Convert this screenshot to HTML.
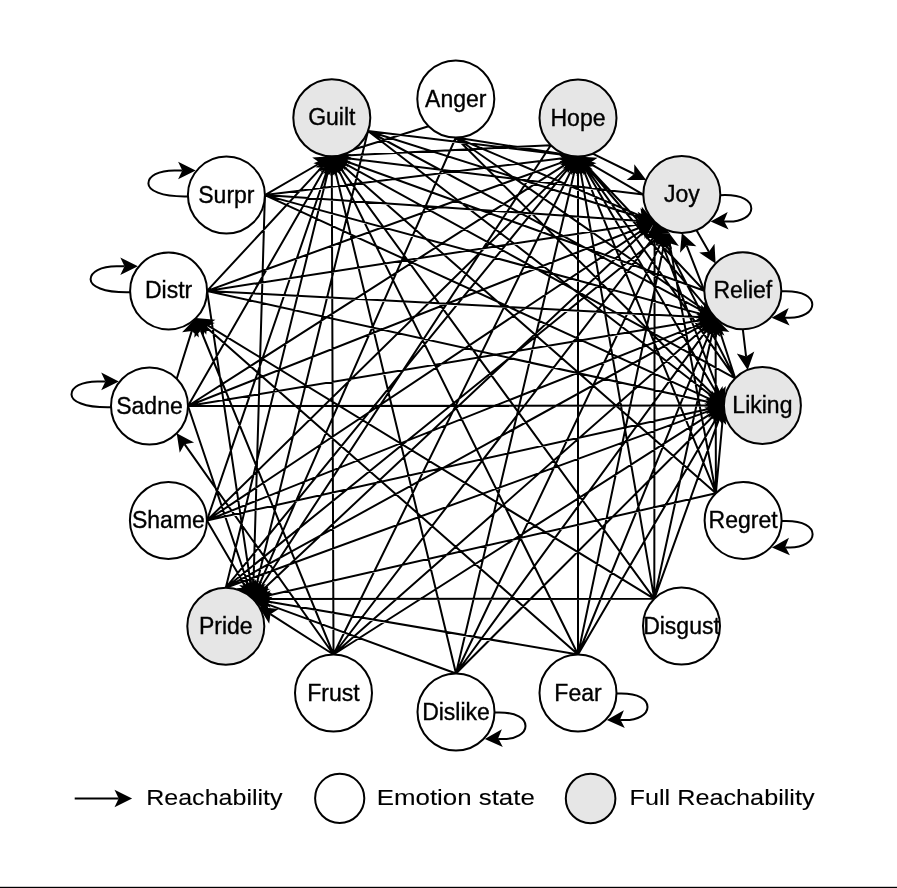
<!DOCTYPE html>
<html><head><meta charset="utf-8"><style>
html,body{margin:0;padding:0;background:#fff;width:897px;height:888px;overflow:hidden}
svg{display:block;will-change:transform}
text{font-family:"Liberation Sans",sans-serif;font-size:23px;fill:#000;stroke:#000;stroke-width:0.35px}
text.lg{font-size:22.3px;stroke-width:0.1px}
</style></head><body>
<svg width="897" height="888" viewBox="0 0 897 888">
<rect width="897" height="888" fill="#fff"/>
<path d="M368.0,131.0L564.7,154.9M368.0,131.0L641.8,217.8M368.0,131.0L703.8,311.6M368.0,131.0L713.3,397.3M368.0,131.0L256.2,586.0M428.6,126.2L344.6,152.3M455.8,137.5L564.8,154.4M455.8,137.5L642.2,216.6M455.8,137.5L704.6,310.3M455.8,137.5L714.4,396.0M455.8,137.5L258.4,586.7M550.8,145.2L345.2,155.6M592.7,153.6L634.2,174.0M578.0,156.5L706.9,307.7M578.0,156.5L717.1,393.9M550.8,145.2L260.4,587.8M643.3,194.6L345.1,157.9M643.3,194.6L589.6,163.3M696.5,230.2L708.9,251.8M643.3,194.6L719.1,393.0M654.6,221.8L262.8,589.8M704.3,290.7L344.4,160.8M704.3,290.7L587.2,166.3M704.3,290.7L686.7,245.6M742.8,329.2L746.1,356.6M735.2,378.3L343.5,162.8M735.2,378.3L585.7,167.4M735.2,378.3L660.7,233.7M735.2,378.3L719.7,330.7M715.9,493.2L341.9,165.1M715.9,493.2L583.1,168.9M715.9,493.2L669.5,243.3M715.9,493.2L715.6,331.3M715.9,493.2L722.7,418.8M715.9,493.2L266.1,596.0M654.3,598.8L339.7,167.1M654.3,598.8L580.3,169.7M654.3,598.8L654.6,235.2M654.3,598.8L712.7,331.0M654.3,598.8L719.4,418.1M654.3,598.8L266.4,599.0M578.0,654.5L337.7,168.3M578.0,654.5L578.0,169.9M578.0,654.5L664.3,243.3M578.0,654.5L710.5,330.3M578.0,654.5L717.1,417.1M578.0,654.5L266.2,601.2M456.0,673.5L334.9,169.3M456.0,673.5L574.9,169.5M456.0,673.5L661.3,242.3M456.0,673.5L707.7,328.7M456.0,673.5L714.4,415.0M456.0,673.5L265.6,603.6M333.5,654.5L331.8,169.7M333.5,654.5L572.1,168.5M333.5,654.5L653.2,237.9M333.5,654.5L705.5,326.8M333.5,654.5L712.6,412.7M333.5,654.5L270.4,614.2M225.8,587.7L328.6,169.3M225.8,587.7L569.5,166.9M225.8,587.7L656.7,238.6M225.8,587.7L703.8,324.4M225.8,587.7L711.3,410.1M206.9,520.5L327.5,169.0M206.9,520.5L568.4,165.9M206.9,520.5L643.4,229.3M206.9,520.5L703.1,322.9M206.9,520.5L710.8,408.4M206.9,520.5L246.2,587.4M188.0,406.0L325.1,167.9M188.0,406.0L566.7,163.7M188.0,406.0L642.1,226.7M188.0,406.0L702.4,320.1M188.0,406.0L710.5,405.5M188.0,406.0L248.7,586.3M207.1,290.9L322.7,166.1M207.1,290.9L565.4,161.1M207.1,290.9L641.3,223.9M207.1,290.9L702.2,317.2M207.1,290.9L710.8,402.6M207.1,290.9L251.0,585.7M264.9,195.1L320.2,163.0M264.9,195.1L564.7,158.1M264.9,195.1L641.2,220.9M264.9,195.1L702.6,314.4M264.9,195.1L711.7,399.9M264.9,195.1L253.4,585.6M176.7,378.8L191.8,330.9M333.5,654.5L200.9,330.5M333.5,654.5L184.5,444.2M654.3,598.8L207.3,325.1M578.0,654.5L205.9,327.0M187.9,196.4C160.4,197.0 148.4,190.1 148.4,183.5C148.4,176.1 158.4,170.5 174.4,170.5L182.3,170.5M130.1,292.2C102.6,292.8 90.6,285.9 90.6,279.3C90.6,271.9 100.6,266.3 116.6,266.3L124.5,266.3M111.0,407.3C83.5,407.9 71.5,401.0 71.5,394.4C71.5,387.0 81.5,381.4 97.5,381.4L105.4,381.4M720.3,195.2C743.8,194.0 751.3,202.0 751.3,208.5C751.3,216.0 741.8,221.6 728.8,221.6L724.0,221.6M781.3,291.3C804.8,290.1 812.3,298.1 812.3,304.6C812.3,312.1 802.8,317.7 789.8,317.7L785.0,317.7M781.6,521.0C805.1,519.8 812.6,527.8 812.6,534.3C812.6,541.8 803.1,547.4 790.1,547.4L785.3,547.4M616.5,693.6C640.0,692.4 647.5,700.4 647.5,706.9C647.5,714.4 638.0,720.0 625.0,720.0L620.2,720.0M494.5,712.6C518.0,711.4 525.5,719.4 525.5,725.9C525.5,733.4 516.0,739.0 503.0,739.0L498.2,739.0" fill="none" stroke="#000" stroke-width="2"/>
<path d="M578.0,156.5L559.5,163.1L564.7,154.9L561.6,145.6ZM654.6,221.8L635.1,224.9L641.8,217.8L640.5,208.1ZM715.6,317.9L695.9,317.3L703.8,311.6L704.2,301.8ZM723.9,405.5L704.6,401.7L713.3,397.3L715.3,387.8ZM253.0,599.0L248.7,579.8L256.2,586.0L265.8,584.0ZM331.8,156.3L346.0,142.7L344.6,152.3L351.2,159.5ZM578.0,156.5L559.3,162.5L564.8,154.4L562.0,145.1ZM654.6,221.8L634.9,223.1L642.2,216.6L641.8,206.8ZM715.6,317.9L696.1,315.1L704.6,310.3L706.1,300.7ZM723.9,405.5L705.2,399.3L714.4,396.0L717.7,386.8ZM253.0,599.0L252.0,579.3L258.4,586.7L268.2,586.4ZM331.8,156.3L348.9,146.6L345.2,155.6L349.8,164.2ZM646.2,179.9L626.6,180.0L634.2,174.0L634.3,164.2ZM715.6,317.9L697.5,310.2L706.9,307.7L710.9,298.8ZM723.9,405.5L707.4,394.8L717.1,393.9L722.6,385.9ZM253.0,599.0L255.3,579.4L260.4,587.8L270.0,589.1ZM331.8,156.3L350.3,149.7L345.1,157.9L348.2,167.2ZM578.0,156.5L597.6,157.8L589.6,163.3L588.8,173.0ZM715.6,263.5L699.2,252.6L708.9,251.8L714.5,243.8ZM723.9,405.5L709.4,392.2L719.1,393.0L725.8,385.9ZM253.0,599.0L259.8,580.5L262.8,589.8L271.9,593.3ZM331.8,156.3L351.3,154.0L344.4,160.8L345.4,170.6ZM578.0,156.5L596.5,163.3L587.2,166.3L583.7,175.3ZM681.8,233.1L696.4,246.3L686.7,245.6L680.0,252.7ZM747.7,369.9L736.8,353.5L746.1,356.6L754.3,351.4ZM331.8,156.3L351.5,157.1L343.5,162.8L343.0,172.5ZM578.0,156.5L595.4,165.8L585.7,167.4L581.0,175.9ZM654.6,221.8L670.5,233.4L660.7,233.7L654.8,241.5ZM715.6,317.9L729.4,331.9L719.7,330.7L712.6,337.4ZM331.8,156.3L350.8,161.3L341.9,165.1L339.2,174.5ZM578.0,156.5L592.8,169.5L583.1,168.9L576.5,176.1ZM667.1,230.2L678.9,245.9L669.5,243.3L661.6,249.1ZM715.6,317.9L724.4,335.5L715.6,331.3L706.8,335.5ZM723.9,405.5L731.1,423.8L722.7,418.8L713.5,422.2ZM253.0,599.0L268.2,586.5L266.1,596.0L272.1,603.6ZM331.8,156.3L349.3,165.3L339.7,167.1L335.1,175.7ZM578.0,156.5L589.7,172.3L580.3,169.7L572.3,175.3ZM654.6,221.8L663.4,239.4L654.6,235.2L645.8,239.4ZM715.6,317.9L720.4,337.0L712.7,331.0L703.2,333.2ZM723.9,405.5L726.2,425.0L719.4,418.1L709.7,419.1ZM253.0,599.0L270.6,590.2L266.4,599.0L270.6,607.8ZM331.8,156.3L347.5,168.2L337.7,168.3L331.7,176.0ZM578.0,156.5L586.8,174.1L578.0,169.9L569.2,174.1ZM667.1,230.2L672.1,249.2L664.3,243.3L654.8,245.6ZM715.6,317.9L717.1,337.5L710.5,330.3L700.8,330.9ZM723.9,405.5L722.6,425.1L717.1,417.1L707.4,416.2ZM253.0,599.0L271.9,593.3L266.2,601.2L268.9,610.6ZM331.8,156.3L344.5,171.4L334.9,169.3L327.4,175.5ZM578.0,156.5L582.5,175.7L574.9,169.5L565.4,171.6ZM667.1,230.2L667.4,249.8L661.3,242.3L651.6,242.3ZM715.6,317.9L712.3,337.3L707.7,328.7L698.1,327.0ZM723.9,405.5L717.7,424.2L714.4,415.0L705.2,411.7ZM253.0,599.0L272.6,596.8L265.6,603.6L266.5,613.3ZM331.8,156.3L340.7,173.9L331.8,169.7L323.1,173.9ZM578.0,156.5L578.1,176.2L572.1,168.5L562.3,168.4ZM661.4,227.2L657.7,246.6L653.2,237.9L643.7,235.9ZM715.6,317.9L708.2,336.2L705.5,326.8L696.6,323.0ZM723.9,405.5L713.8,422.4L712.6,412.7L704.3,407.5ZM259.1,607.0L278.7,609.0L270.4,614.2L269.2,623.8ZM331.8,156.3L336.1,175.5L328.6,169.3L319.1,171.3ZM578.0,156.5L573.7,175.7L569.5,166.9L560.1,164.6ZM667.1,230.2L658.9,248.1L656.7,238.6L647.9,234.4ZM715.6,317.9L704.4,334.1L703.8,324.4L695.9,318.7ZM723.9,405.5L710.4,419.8L711.3,410.1L704.3,403.3ZM331.8,156.3L334.4,175.8L327.5,169.0L317.8,170.1ZM578.0,156.5L571.6,175.1L568.4,165.9L559.3,162.5ZM654.6,221.8L644.8,238.9L643.4,229.3L635.1,224.3ZM715.6,317.9L702.5,332.6L703.1,322.9L696.0,316.3ZM723.9,405.5L708.6,417.9L710.8,408.4L704.8,400.7ZM253.0,599.0L236.5,588.3L246.2,587.4L251.7,579.3ZM331.8,156.3L330.6,175.9L325.1,167.9L315.4,167.2ZM578.0,156.5L567.9,173.4L566.7,163.7L558.4,158.6ZM654.6,221.8L641.4,236.5L642.1,226.7L635.0,220.1ZM715.6,317.9L699.7,329.5L702.4,320.1L696.8,312.1ZM723.9,405.5L706.3,414.3L710.5,405.5L706.3,396.7ZM253.0,599.0L239.1,585.1L248.7,586.3L255.7,579.5ZM331.8,156.3L326.3,175.2L322.7,166.1L313.4,163.2ZM578.0,156.5L564.5,170.8L565.4,161.1L558.5,154.2ZM654.6,221.8L638.5,233.2L641.3,223.9L635.8,215.8ZM715.6,317.9L697.5,325.8L702.2,317.2L698.5,308.2ZM723.9,405.5L704.8,410.3L710.8,402.6L708.6,393.1ZM253.0,599.0L241.7,582.9L251.0,585.7L259.1,580.3ZM331.8,156.3L321.0,172.7L320.2,163.0L312.2,157.5ZM578.0,156.5L561.6,167.4L564.7,158.1L559.5,149.9ZM654.6,221.8L636.4,229.4L641.2,220.9L637.6,211.8ZM715.6,317.9L696.3,321.8L702.6,314.4L700.9,304.8ZM723.9,405.5L704.2,406.2L711.7,399.9L711.6,390.2ZM253.0,599.0L244.7,581.1L253.4,585.6L262.3,581.6ZM195.8,318.1L198.9,337.6L191.8,330.9L182.1,332.3ZM195.8,318.1L210.6,331.1L200.9,330.5L194.3,337.7ZM176.7,433.2L194.1,442.5L184.5,444.2L179.7,452.7ZM195.8,318.1L215.4,319.8L207.3,325.1L206.2,334.8ZM195.8,318.1L214.8,323.1L205.9,327.0L203.2,336.4ZM195.7,170.5L178.1,179.3L182.3,170.5L178.1,161.7ZM137.9,266.3L120.3,275.1L124.5,266.3L120.3,257.5ZM118.8,381.4L101.2,390.2L105.4,381.4L101.2,372.6ZM710.6,221.6L727.7,211.9L724.0,220.9L728.6,229.5ZM771.6,317.7L788.7,308.0L785.0,317.0L789.6,325.6ZM771.9,547.4L789.0,537.7L785.3,546.7L789.9,555.3ZM606.8,720.0L623.9,710.3L620.2,719.3L624.8,727.9ZM484.8,739.0L501.9,729.3L498.2,738.3L502.8,746.9Z" fill="#000" stroke="none"/>
<circle cx="331.8" cy="117.8" r="38.5" fill="#e6e6e6" stroke="#000" stroke-width="2"/>
<circle cx="455.8" cy="99.0" r="38.5" fill="#fff" stroke="#000" stroke-width="2"/>
<circle cx="578.0" cy="118.0" r="38.5" fill="#e6e6e6" stroke="#000" stroke-width="2"/>
<circle cx="681.8" cy="194.6" r="38.5" fill="#e6e6e6" stroke="#000" stroke-width="2"/>
<circle cx="742.8" cy="290.7" r="38.5" fill="#e6e6e6" stroke="#000" stroke-width="2"/>
<circle cx="762.4" cy="405.5" r="38.5" fill="#e6e6e6" stroke="#000" stroke-width="2"/>
<circle cx="743.1" cy="520.4" r="38.5" fill="#fff" stroke="#000" stroke-width="2"/>
<circle cx="681.5" cy="626.0" r="38.5" fill="#fff" stroke="#000" stroke-width="2"/>
<circle cx="578.0" cy="693.0" r="38.5" fill="#fff" stroke="#000" stroke-width="2"/>
<circle cx="456.0" cy="712.0" r="38.5" fill="#fff" stroke="#000" stroke-width="2"/>
<circle cx="333.5" cy="693.0" r="38.5" fill="#fff" stroke="#000" stroke-width="2"/>
<circle cx="225.8" cy="626.2" r="38.5" fill="#e6e6e6" stroke="#000" stroke-width="2"/>
<circle cx="168.4" cy="520.5" r="38.5" fill="#fff" stroke="#000" stroke-width="2"/>
<circle cx="149.5" cy="406.0" r="38.5" fill="#fff" stroke="#000" stroke-width="2"/>
<circle cx="168.6" cy="290.9" r="38.5" fill="#fff" stroke="#000" stroke-width="2"/>
<circle cx="226.4" cy="195.1" r="38.5" fill="#fff" stroke="#000" stroke-width="2"/>
<text x="331.8" y="125.3" text-anchor="middle">Guilt</text>
<text x="455.8" y="106.5" text-anchor="middle">Anger</text>
<text x="578.0" y="125.5" text-anchor="middle">Hope</text>
<text x="681.8" y="202.1" text-anchor="middle">Joy</text>
<text x="742.8" y="298.2" text-anchor="middle">Relief</text>
<text x="762.4" y="413.0" text-anchor="middle">Liking</text>
<text x="743.1" y="527.9" text-anchor="middle">Regret</text>
<text x="681.5" y="633.5" text-anchor="middle">Disgust</text>
<text x="578.0" y="700.5" text-anchor="middle">Fear</text>
<text x="456.0" y="719.5" text-anchor="middle">Dislike</text>
<text x="333.5" y="700.5" text-anchor="middle">Frust</text>
<text x="225.8" y="633.7" text-anchor="middle">Pride</text>
<text x="168.4" y="528.0" text-anchor="middle">Shame</text>
<text x="149.5" y="413.5" text-anchor="middle">Sadne</text>
<text x="168.6" y="298.4" text-anchor="middle">Distr</text>
<text x="226.4" y="202.6" text-anchor="middle">Surpr</text>
<path d="M74.7,798.4L118.7,798.4" stroke="#000" stroke-width="2"/>
<path d="M132.1,798.4L114.5,789.7L118.7,798.4L114.5,807.3Z" fill="#000"/>
<circle cx="339.7" cy="798.3" r="24.6" fill="#fff" stroke="#000" stroke-width="2"/>
<circle cx="590.6" cy="798.5" r="24.8" fill="#e6e6e6" stroke="#000" stroke-width="2"/>
<text x="146.2" y="805.2" class="lg" textLength="136.4" lengthAdjust="spacingAndGlyphs">Reachability</text>
<text x="376.8" y="805.2" class="lg" textLength="158" lengthAdjust="spacingAndGlyphs">Emotion state</text>
<text x="629.6" y="805.2" class="lg" textLength="185" lengthAdjust="spacingAndGlyphs">Full Reachability</text>
<rect x="0" y="886.8" width="897" height="1.2" fill="#000"/>
</svg>
</body></html>
